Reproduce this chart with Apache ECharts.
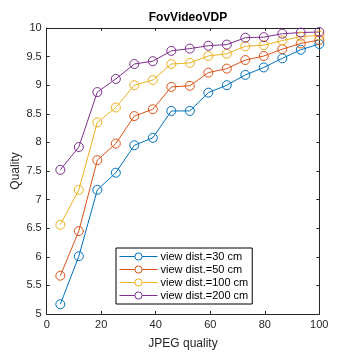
<!DOCTYPE html>
<html>
<head>
<meta charset="utf-8">
<script src="https://cdn.jsdelivr.net/npm/echarts@6/dist/echarts.min.js"></script>
<style>
  html, body { margin: 0; padding: 0; background: #fff; }
  #chart { width: 354px; height: 354px; }
</style>
</head>
<body>
<div id="chart"></div>
<script>
// JPEG quality levels (x)
var jpegQuality = [5, 11.79, 18.57, 25.36, 32.14, 38.93, 45.71, 52.5, 59.29, 66.07, 72.86, 79.64, 86.43, 93.21, 100];

var seriesNames = ['view dist.=30 cm', 'view dist.=50 cm', 'view dist.=100 cm', 'view dist.=200 cm'];
var seriesColors = ['#0072BD', '#D95319', '#EDB120', '#7E2F8E'];

// quality per viewing distance
var dist30  = [5.17, 6.01, 7.17, 7.47, 7.95, 8.08, 8.55, 8.55, 8.87, 9.00, 9.18, 9.31, 9.47, 9.62, 9.72];
var dist50  = [5.67, 6.45, 7.69, 7.98, 8.46, 8.58, 8.97, 8.99, 9.22, 9.29, 9.44, 9.51, 9.63, 9.73, 9.79];
var dist100 = [6.56, 7.17, 8.35, 8.61, 9.00, 9.09, 9.37, 9.39, 9.51, 9.55, 9.68, 9.70, 9.78, 9.85, 9.87];
var dist200 = [7.52, 7.92, 8.88, 9.11, 9.37, 9.42, 9.60, 9.64, 9.69, 9.71, 9.83, 9.84, 9.90, 9.92, 9.93];

var allData = [dist30, dist50, dist100, dist200];

var fontName = 'Liberation Sans, Arial, sans-serif';

function pairs(ys) {
    var list = [];
    for (var i = 0; i < ys.length; i++) {
        list.push([jpegQuality[i], ys[i]]);
    }
    return list;
}

var myChart = echarts.init(document.getElementById('chart'));

var series = [];
for (var k = 0; k < allData.length; k++) {
    series.push({
        name: seriesNames[k],
        type: 'line',
        data: pairs(allData[k]),
        symbol: 'circle',
        symbolSize: 9,
        color: seriesColors[k],
        lineStyle: { width: 1, color: seriesColors[k] },
        itemStyle: { color: 'rgba(255,255,255,0)', borderColor: seriesColors[k], borderWidth: 1 },
        emphasis: { disabled: true },
        animation: false
    });
}

var tickStyle = { show: true, inside: true, length: 3, lineStyle: { color: '#262626', width: 1 } };
var lineStyleAxis = { show: true, onZero: false, lineStyle: { color: '#262626', width: 1 } };

var option = {
    backgroundColor: '#fff',
    title: {
        text: 'FovVideoVDP',
        left: 183,
        textAlign: 'center',
        top: 7,
        textStyle: { fontFamily: fontName, fontSize: 12, fontWeight: 'bold', color: '#000' }
    },
    legend: {
        orient: 'vertical',
        left: 116,
        top: 248,
        data: seriesNames,
        backgroundColor: '#fff',
        borderColor: '#000',
        borderWidth: 1,
        borderRadius: 0,
        padding: [3, 4, 3, 3],
        itemWidth: 38,
        itemHeight: 9,
        itemGap: 2,
        itemStyle: { color: '#fff', borderWidth: 1 },
        lineStyle: { width: 1 },
        textStyle: { fontFamily: fontName, fontSize: 11, color: '#000', padding: [0, 0, 0, -2] }
    },
    grid: { left: 46.7, right: 34.7, top: 28, bottom: 40, containLabel: false, outerBoundsMode: 'none' },
    xAxis: [{
        type: 'value',
        min: 0, max: 100, interval: 20,
        name: 'JPEG quality',
        nameLocation: 'middle',
        nameGap: 24,
        nameMoveOverlap: false,
        nameTextStyle: { fontFamily: fontName, fontSize: 12, color: '#262626' },
        axisLine: lineStyleAxis,
        axisTick: tickStyle,
        axisLabel: { fontFamily: fontName, fontSize: 11, color: '#262626', margin: 5 },
        splitLine: { show: false }
    }, {
        type: 'value', position: 'top',
        min: 0, max: 100, interval: 20,
        axisLine: lineStyleAxis,
        axisTick: tickStyle,
        axisLabel: { show: false },
        splitLine: { show: false }
    }],
    yAxis: [{
        type: 'value',
        min: 5, max: 10, interval: 0.5,
        name: 'Quality',
        nameLocation: 'middle',
        nameGap: 25,
        nameMoveOverlap: false,
        nameTextStyle: { fontFamily: fontName, fontSize: 12, color: '#262626' },
        axisLine: lineStyleAxis,
        axisTick: tickStyle,
        axisLabel: { fontFamily: fontName, fontSize: 11, color: '#262626', margin: 5 },
        splitLine: { show: false }
    }, {
        type: 'value', position: 'right',
        min: 5, max: 10, interval: 0.5,
        axisLine: lineStyleAxis,
        axisTick: tickStyle,
        axisLabel: { show: false },
        splitLine: { show: false }
    }],
    series: series
};

myChart.setOption(option);
</script>
</body>
</html>
